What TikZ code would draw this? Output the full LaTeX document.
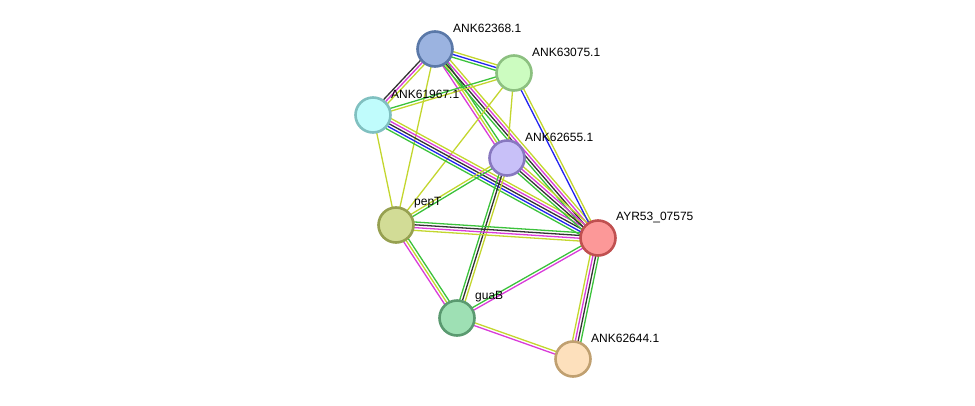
\documentclass[tikz,border=0pt]{standalone}
\usepackage{fontspec}
\setmainfont{Liberation Sans}
\usetikzlibrary{calc,backgrounds}

\definecolor{nbgreen}{HTML}{3BC23B}
\definecolor{cooblue}{HTML}{2222F0}
\definecolor{coexblack}{HTML}{333333}
\definecolor{expmag}{HTML}{D93BD9}
\definecolor{txtyel}{HTML}{C3D62E}

% parallel coloured lines between two proteins: from, to, count, colours
\newcommand{\linkedge}[4]{%
  \foreach \col [count=\i] in {#4} {
    \pgfmathsetmacro{\off}{(\i-(#3+1)/2)*2.8}
    \draw[link, \col] ($(#1)!\off pt!90:(#2)$) -- ($(#2)!\off pt!-90:(#1)$);
  }%
}

\begin{document}
\begin{tikzpicture}[x=1pt, y=-1pt,
    protein/.style={circle, minimum size=35pt, inner sep=0pt, line width=2.6pt},
    plabel/.style={anchor=west, inner sep=0pt, font=\fontsize{12}{14}\selectfont},
    link/.style={line width=1.3pt},
  ]
  \useasboundingbox (0,0) rectangle (975,405);

  \node[protein, fill={rgb,255:red,155;green,179;blue,224}, draw={rgb,255:red,90;green,120;blue,168}] (p62368) at (435,49) {};
  \node[protein, fill={rgb,255:red,204;green,252;blue,192}, draw={rgb,255:red,140;green,192;blue,128}] (p63075) at (514,73) {};
  \node[protein, fill={rgb,255:red,192;green,252;blue,252}, draw={rgb,255:red,128;green,192;blue,192}] (p61967) at (373,115) {};
  \node[protein, fill={rgb,255:red,200;green,192;blue,248}, draw={rgb,255:red,136;green,120;blue,192}] (p62655) at (507,158) {};
  \node[protein, fill={rgb,255:red,210;green,220;blue,150}, draw={rgb,255:red,150;green,160;blue,80}] (pepT) at (396,225) {};
  \node[protein, fill={rgb,255:red,252;green,152;blue,152}, draw={rgb,255:red,192;green,80;blue,80}] (ayr53) at (598,238) {};
  \node[protein, fill={rgb,255:red,158;green,224;blue,180}, draw={rgb,255:red,90;green,154;blue,112}] (guaB) at (457,318) {};
  \node[protein, fill={rgb,255:red,253;green,224;blue,188}, draw={rgb,255:red,192;green,160;blue,112}] (p62644) at (573,359) {};

  % labels
  \node[plabel] (l62368) at (453,28) {ANK62368.1};
  \node[plabel] (l63075) at (532,52) {ANK63075.1};
  \node[plabel] (l61967) at (391,94) {ANK61967.1};
  \node[plabel] (l62655) at (525,137) {ANK62655.1};
  \node[plabel] (lpepT) at (414,203) {pepT};
  \node[plabel] (layr53) at (616,217) {AYR53\_07575};
  \node[plabel] (lguaB) at (475,297) {guaB};
  \node[plabel] (l62644) at (591,338) {ANK62644.1};

  \begin{pgfonlayer}{background}
    \linkedge{p62368}{p63075}{3}{nbgreen,cooblue,txtyel}
    \linkedge{p62368}{p61967}{3}{coexblack,expmag,txtyel}
    \linkedge{p62368}{pepT}{1}{txtyel}
    \linkedge{p62368}{p62655}{3}{expmag,txtyel,nbgreen}
    \linkedge{p62368}{ayr53}{4}{nbgreen,coexblack,expmag,txtyel}
    \linkedge{p63075}{p61967}{2}{nbgreen,txtyel}
    \linkedge{p63075}{pepT}{1}{txtyel}
    \linkedge{p63075}{p62655}{1}{txtyel}
    \linkedge{p63075}{ayr53}{2}{cooblue,txtyel}
    \linkedge{p61967}{pepT}{1}{txtyel}
    \linkedge{p61967}{ayr53}{5}{nbgreen,cooblue,coexblack,expmag,txtyel}
    \linkedge{p62655}{pepT}{2}{txtyel,nbgreen}
    \linkedge{p62655}{ayr53}{4}{nbgreen,coexblack,expmag,txtyel}
    \linkedge{p62655}{guaB}{3}{nbgreen,coexblack,txtyel}
    \linkedge{pepT}{ayr53}{4}{txtyel,expmag,coexblack,nbgreen}
    \linkedge{pepT}{guaB}{3}{expmag,txtyel,nbgreen}
    \linkedge{ayr53}{guaB}{2}{nbgreen,expmag}
    \linkedge{ayr53}{p62644}{4}{txtyel,expmag,coexblack,nbgreen}
    \linkedge{guaB}{p62644}{2}{expmag,txtyel}
  \end{pgfonlayer}
\end{tikzpicture}
\end{document}
